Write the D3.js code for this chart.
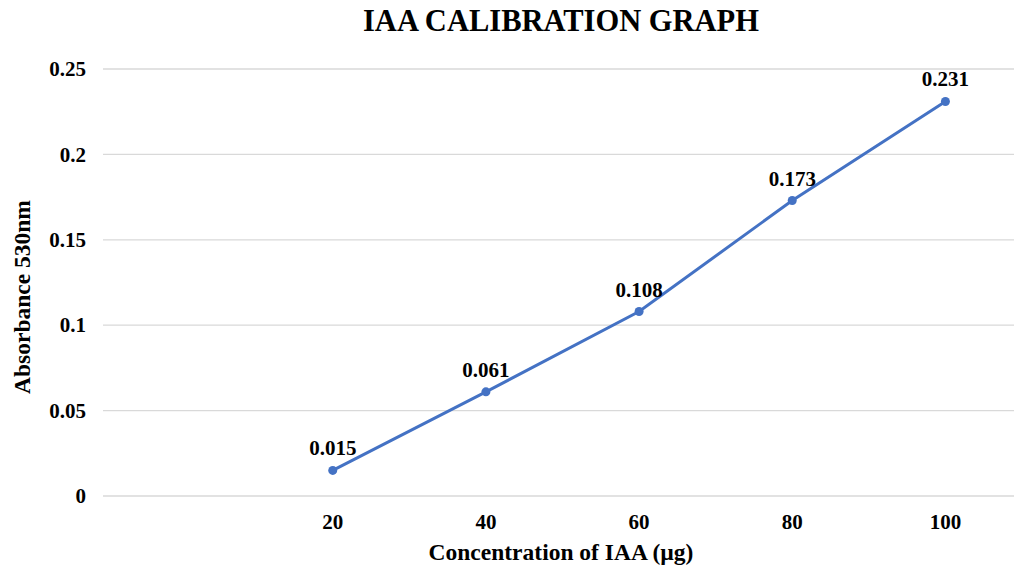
<!DOCTYPE html>
<html>
<head>
<meta charset="utf-8">
<script src="https://cdn.jsdelivr.net/npm/d3@7"></script>
<style>
    body { margin: 0; background: #fff; }
    #chart { width: 1014px; height: 570px; }
    text { font-family: "Liberation Serif", "Times New Roman", serif; font-weight: bold; fill: #000; }
</style>
</head>
<body>
<div id="chart"></div>
<script>
// data
var categories = ["", "20", "40", "60", "80", "100"];
var concentration = ["20", "40", "60", "80", "100"];
var absorbance = [0.015, 0.061, 0.108, 0.173, 0.231];
var yTicks = [0, 0.05, 0.1, 0.15, 0.2, 0.25];

var data = concentration.map(function(c, i) {
    return {conc: c, abs: absorbance[i]};
});

var width = 1014;
var height = 570;
var margin = {top: 69, left: 103, right: -8, bottom: 74};

var svg = d3.select("#chart")
    .append("svg")
    .attr("width", width)
    .attr("height", height);

var xScale = d3.scaleBand()
    .domain(categories)
    .range([margin.left, width - margin.right]);

var yScale = d3.scaleLinear()
    .domain([0, 0.25])
    .range([height - margin.bottom, margin.top]);

// gridlines
svg.append("g")
    .selectAll("line")
    .data(yTicks)
    .enter()
    .append("line")
        .attr("x1", margin.left)
        .attr("x2", width - margin.right)
        .attr("y1", function(d) { return yScale(d); })
        .attr("y2", function(d) { return yScale(d); })
        .attr("stroke", "#d9d9d9")
        .attr("stroke-width", 1.3);

var yAxis = svg.append("g")
    .attr("transform", `translate(${margin.left - 17},0)`)
    .call(d3.axisLeft(yScale).tickValues(yTicks).tickSize(0).tickFormat(function(d) { return String(d); }));
yAxis.select(".domain").remove();
yAxis.selectAll("text").style("font-size", "21px").attr("x", 0);

var xAxis = svg.append("g")
    .attr("transform", `translate(0,${height - margin.bottom})`)
    .call(d3.axisBottom(xScale).tickSize(0));
xAxis.select(".domain").remove();
xAxis.selectAll("text").style("font-size", "21px").attr("y", 18);

svg.append("text")
    .attr("x", 561)
    .attr("y", 31)
    .attr("text-anchor", "middle")
    .style("font-size", "30.5px")
    .text("IAA CALIBRATION GRAPH");

svg.append("text")
    .attr("x", 561)
    .attr("y", 560)
    .attr("text-anchor", "middle")
    .style("font-size", "23.5px")
    .text("Concentration of IAA (µg)");

svg.append("text")
    .attr("transform", "rotate(-90)")
    .attr("x", -297)
    .attr("y", 30)
    .attr("text-anchor", "middle")
    .style("font-size", "23.5px")
    .text("Absorbance 530nm");

var line = d3.line()
    .x(function(d) { return xScale(d.conc) + xScale.bandwidth() / 2; })
    .y(function(d) { return yScale(d.abs); });

svg.append("path")
    .datum(data)
    .attr("d", line)
    .attr("fill", "none")
    .attr("stroke", "#4472C4")
    .attr("stroke-width", 3);

svg.selectAll(".dot")
    .data(data)
    .enter()
    .append("circle")
        .attr("class", "dot")
        .attr("cx", function(d) { return xScale(d.conc) + xScale.bandwidth() / 2; })
        .attr("cy", function(d) { return yScale(d.abs); })
        .attr("r", 4.5)
        .attr("fill", "#4472C4");

svg.selectAll(".label")
    .data(data)
    .enter()
    .append("text")
        .attr("class", "label")
        .attr("x", function(d) { return xScale(d.conc) + xScale.bandwidth() / 2; })
        .attr("y", function(d) { return yScale(d.abs) - 15; })
        .attr("text-anchor", "middle")
        .style("font-size", "21px")
        .text(function(d) { return d3.format(".3f")(d.abs); });
</script>
</body>
</html>
